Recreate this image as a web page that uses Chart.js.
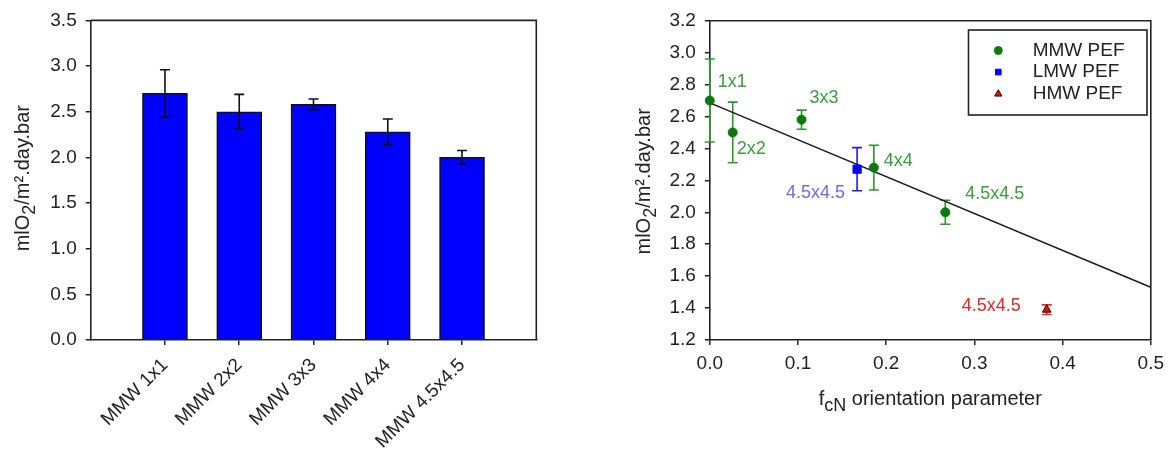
<!DOCTYPE html>
<html>
<head>
<meta charset="utf-8">
<script src="https://cdn.jsdelivr.net/npm/chart.js@4.4.1/dist/chart.umd.min.js"></script>
<style>
  html, body { margin: 0; padding: 0; background: #fff; }
  #wrap { position: relative; width: 1171px; height: 457px; overflow: hidden; }
  canvas { position: absolute; top: 0; }
  #barChart { left: 0; }
  #fitChart { left: 600px; }
</style>
</head>
<body>
<div id="wrap">
  <canvas id="barChart" width="600" height="457"></canvas>
  <canvas id="fitChart" width="571" height="457"></canvas>
</div>
<script>
// ---- data ----
const categories = ['MMW 1x1', 'MMW 2x2', 'MMW 3x3', 'MMW 4x4', 'MMW 4.5x4.5'];
const mmwTags = ['1x1', '2x2', '3x3', '4x4', '4.5x4.5'];
const mmwRate = [2.70, 2.50, 2.58, 2.28, 2.00];
const mmwErr = [0.26, 0.19, 0.06, 0.14, 0.075];
const mmwFcN = [0.000, 0.026, 0.104, 0.186, 0.267];

const lmwTags = ['4.5x4.5'];
const lmwRate = [2.27];
const lmwErr = [0.135];
const lmwFcN = [0.167];

const hmwTags = ['4.5x4.5'];
const hmwRate = [1.39];
const hmwErr = [0.03];
const hmwFcN = [0.382];

const trendFcN = [0.0, 0.5];
const trendRate = [2.685, 1.53];

const barRateTicks = [0.0, 0.5, 1.0, 1.5, 2.0, 2.5, 3.0, 3.5];
const fitRateTicks = [1.2, 1.4, 1.6, 1.8, 2.0, 2.2, 2.4, 2.6, 2.8, 3.0, 3.2];
const fcnTicks = [0.0, 0.1, 0.2, 0.3, 0.4, 0.5];

// ---- shared look ----
const FAMILY = "'Liberation Sans', Arial, Helvetica, sans-serif";
const INK = '#222222';
Chart.defaults.font.family = FAMILY;
Chart.defaults.font.size = 19;
Chart.defaults.color = INK;
Chart.defaults.animation = false;

const yTitleSegs = [{ t: 'mlO' }, { t: '2', sub: true }, { t: '/m\u00B2.day.bar' }];
const xTitleSegs = [{ t: 'f' }, { t: 'cN', sub: true }, { t: ' orientation parameter' }];

// where each sample tag sits relative to its point (px)
const mmwTagPlace = [
  { dx: 8, dy: -18 }, { dx: 4, dy: 17 }, { dx: 8, dy: -22 }, { dx: 10, dy: -7 }, { dx: 20, dy: -18 }
];
const lmwTagPlace = [{ dx: -12, dy: 24, align: 'right' }];
const hmwTagPlace = [{ dx: -26, dy: -4, align: 'right' }];

const fixTicks = values => scale => { scale.ticks = values.map(v => ({ value: v })); };
const fixWidth = w => scale => { scale.width = w; };
const fixHeight = h => scale => { scale.height = h; };
const oneDecimal = v => Number(v).toFixed(1);

// text with subscript runs, centred on (x, y)
function drawRich(ctx, segs, size, x, y, rot, color) {
  ctx.save();
  ctx.translate(x, y);
  ctx.rotate(rot);
  ctx.fillStyle = color;
  ctx.textAlign = 'left';
  ctx.textBaseline = 'alphabetic';
  const fonts = segs.map(s => `${s.sub ? size * 0.9 : size}px ${FAMILY}`);
  let total = 0;
  const widths = segs.map((s, i) => { ctx.font = fonts[i]; const w = ctx.measureText(s.t).width; total += w; return w; });
  let cx = -total / 2;
  segs.forEach((s, i) => {
    ctx.font = fonts[i];
    ctx.fillText(s.t, cx, s.sub ? size * 0.3 : 0);
    cx += widths[i];
  });
  ctx.restore();
}

function drawErrorBars(chart) {
  const ctx = chart.ctx, ys = chart.scales.y;
  chart.data.datasets.forEach((ds, i) => {
    if (!ds.errors) return;
    const meta = chart.getDatasetMeta(i);
    ctx.save();
    ctx.strokeStyle = ds.errorColor;
    ctx.lineWidth = 1.6;
    meta.data.forEach((el, j) => {
      const d = ds.data[j];
      const v = typeof d === 'object' ? d.y : d;
      const e = ds.errors[j];
      const top = ys.getPixelForValue(v + e), bot = ys.getPixelForValue(v - e), hw = 5;
      ctx.beginPath();
      ctx.moveTo(el.x, top); ctx.lineTo(el.x, bot);
      ctx.moveTo(el.x - hw, top); ctx.lineTo(el.x + hw, top);
      ctx.moveTo(el.x - hw, bot); ctx.lineTo(el.x + hw, bot);
      ctx.stroke();
    });
    ctx.restore();
  });
}

const errorBars = {
  id: 'errorBars',
  beforeDatasetsDraw(chart, args, opts) { if (opts.under) drawErrorBars(chart); },
  afterDatasetsDraw(chart, args, opts) { if (!opts.under) drawErrorBars(chart); }
};

const frame = {
  id: 'frame',
  afterDraw(chart, args, opts) {
    const a = chart.chartArea, ctx = chart.ctx;
    ctx.save();
    ctx.strokeStyle = opts.color;
    ctx.lineWidth = opts.width;
    ctx.beginPath();
    ctx.moveTo(a.left, a.top); ctx.lineTo(a.right, a.top); ctx.lineTo(a.right, a.bottom);
    ctx.stroke();
    ctx.restore();
  }
};

const axisTitles = {
  id: 'axisTitles',
  afterDraw(chart, args, opts) {
    const a = chart.chartArea, ctx = chart.ctx;
    if (opts.y) drawRich(ctx, opts.y.segs, opts.size, opts.y.baseline, (a.top + a.bottom) / 2 + (opts.y.shift || 0), -Math.PI / 2, opts.color);
    if (opts.x) drawRich(ctx, opts.x.segs, opts.size, (a.left + a.right) / 2, opts.x.baseline, 0, opts.color);
  }
};

const pointTags = {
  id: 'pointTags',
  afterDatasetsDraw(chart, args, opts) {
    const ctx = chart.ctx;
    chart.data.datasets.forEach((ds, i) => {
      if (!ds.tags) return;
      const meta = chart.getDatasetMeta(i);
      ctx.save();
      ctx.font = `${opts.size}px ${FAMILY}`;
      ctx.fillStyle = ds.tagColor;
      ctx.textBaseline = 'middle';
      meta.data.forEach((el, j) => {
        const p = ds.tagPlace[j];
        ctx.textAlign = p.align || 'left';
        ctx.fillText(ds.tags[j], el.x + p.dx, el.y + p.dy);
      });
      ctx.restore();
    });
  }
};

function drawMarker(ctx, style, x, y, r, fill, stroke) {
  ctx.save();
  ctx.fillStyle = fill;
  ctx.strokeStyle = stroke;
  ctx.lineWidth = 1;
  ctx.beginPath();
  if (style === 'rect') {
    const s = r * Math.SQRT1_2;
    ctx.rect(x - s, y - s, 2 * s, 2 * s);
  } else if (style === 'triangle') {
    ctx.moveTo(x, y - r);
    ctx.lineTo(x + r * 0.9, y + r * 0.6);
    ctx.lineTo(x - r * 0.9, y + r * 0.6);
    ctx.closePath();
  } else {
    ctx.arc(x, y, r, 0, Math.PI * 2);
  }
  ctx.fill();
  ctx.stroke();
  ctx.restore();
}

const boxLegend = {
  id: 'boxLegend',
  afterDraw(chart, args, o) {
    const ctx = chart.ctx;
    ctx.save();
    ctx.fillStyle = '#fff';
    ctx.fillRect(o.x, o.y, o.w, o.h);
    ctx.strokeStyle = INK;
    ctx.lineWidth = 1.6;
    ctx.strokeRect(o.x, o.y, o.w, o.h);
    ctx.font = `${o.size}px ${FAMILY}`;
    ctx.textAlign = 'left';
    ctx.textBaseline = 'middle';
    chart.data.datasets.filter(d => d.inLegend).forEach((ds, k) => {
      const cy = o.firstRow + k * o.rowGap;
      drawMarker(ctx, ds.pointStyle, o.markerX, cy, o.markerR, ds.pointBackgroundColor, ds.pointBorderColor);
      ctx.fillStyle = INK;
      ctx.fillText(ds.label, o.textX, cy);
    });
    ctx.restore();
  }
};

// ---- left: bar chart of permeation rate per sample ----
new Chart(document.getElementById('barChart'), {
  type: 'bar',
  data: {
    datasets: [{
      label: 'MMW PEF',
      data: categories.map((c, i) => ({ x: i + 1, y: mmwRate[i] })),
      backgroundColor: '#0000ff',
      borderColor: '#111',
      borderWidth: 1.5,
      barThickness: 45,
      errors: mmwErr,
      errorColor: '#111'
    }]
  },
  options: {
    responsive: false,
    layout: { padding: { top: 20, right: 63.7, left: 0, bottom: 0 } },
    plugins: {
      legend: { display: false },
      tooltip: { enabled: false },
      errorBars: { under: false },
      frame: { color: INK, width: 1.6 },
      axisTitles: { size: 20, color: INK, y: { segs: yTitleSegs, baseline: 28.5, shift: -2 } }
    },
    scales: {
      x: {
        type: 'linear', min: 0, max: 6, offset: false,
        afterBuildTicks: scale => { scale.ticks = categories.map((c, i) => ({ value: i + 1 })); },
        afterFit: fixHeight(117),
        grid: { display: true, drawOnChartArea: false, drawTicks: true, tickLength: 5, color: INK, lineWidth: 1.5, offset: false },
        border: { display: true, color: INK, width: 1.6 },
        ticks: {
          autoSkip: false, minRotation: 45, maxRotation: 45, padding: 9, color: INK,
          callback: v => categories[v - 1] || ''
        }
      },
      y: {
        min: 0, max: 3.5,
        afterBuildTicks: fixTicks(barRateTicks),
        afterFit: fixWidth(90.7),
        grid: { display: true, drawOnChartArea: false, drawTicks: true, tickLength: 5, color: INK, lineWidth: 1.5 },
        border: { display: true, color: INK, width: 1.6 },
        ticks: { padding: 9, color: INK, callback: oneDecimal }
      }
    }
  },
  plugins: [errorBars, frame, axisTitles]
});

// ---- right: rate against orientation parameter ----
const toPoints = (xs, ys) => xs.map((x, i) => ({ x, y: ys[i] }));

new Chart(document.getElementById('fitChart'), {
  type: 'scatter',
  data: {
    datasets: [
      {
        type: 'line',
        label: 'fit',
        data: toPoints(trendFcN, trendRate),
        showLine: true,
        borderColor: '#1a1a1a',
        borderWidth: 1.5,
        pointRadius: 0,
        order: 10
      },
      {
        label: 'MMW PEF',
        inLegend: true,
        data: toPoints(mmwFcN, mmwRate),
        clip: false,
        pointStyle: 'circle',
        pointRadius: 4.5,
        pointBackgroundColor: '#0b7a0b',
        pointBorderColor: '#0b7a0b',
        errors: mmwErr,
        errorColor: '#2f962f',
        tags: mmwTags,
        tagPlace: mmwTagPlace,
        tagColor: '#3a9c3a',
        order: 1
      },
      {
        label: 'LMW PEF',
        inLegend: true,
        data: toPoints(lmwFcN, lmwRate),
        clip: false,
        pointStyle: 'rect',
        pointRadius: 5.8,
        pointBackgroundColor: '#0000ff',
        pointBorderColor: '#0000ff',
        errors: lmwErr,
        errorColor: '#1f1fe0',
        tags: lmwTags,
        tagPlace: lmwTagPlace,
        tagColor: '#6b6bef',
        order: 1
      },
      {
        label: 'HMW PEF',
        inLegend: true,
        data: toPoints(hmwFcN, hmwRate),
        clip: false,
        pointStyle: 'triangle',
        pointRadius: 5,
        pointBackgroundColor: '#e01010',
        pointBorderColor: '#3a0000',
        pointBorderWidth: 1,
        errors: hmwErr,
        errorColor: '#e83030',
        tags: hmwTags,
        tagPlace: hmwTagPlace,
        tagColor: '#e02828',
        order: 1
      }
    ]
  },
  options: {
    responsive: false,
    layout: { padding: { top: 20.7, right: 19.5, left: 0, bottom: 0 } },
    plugins: {
      legend: { display: false },
      tooltip: { enabled: false },
      errorBars: { under: true },
      pointTags: { size: 18 },
      frame: { color: INK, width: 1.6 },
      axisTitles: {
        size: 20, color: INK,
        y: { segs: yTitleSegs, baseline: 50, shift: 1 },
        x: { segs: xTitleSegs, baseline: 405 }
      },
      boxLegend: { x: 368.5, y: 30, w: 178.5, h: 85, markerX: 398.3, textX: 432.7, firstRow: 50.5, rowGap: 21.6, markerR: 4, size: 19 }
    },
    scales: {
      x: {
        type: 'linear', min: 0, max: 0.5,
        afterBuildTicks: fixTicks(fcnTicks),
        afterFit: fixHeight(117),
        grid: { display: true, drawOnChartArea: false, drawTicks: true, tickLength: 5, color: INK, lineWidth: 1.5 },
        border: { display: true, color: INK, width: 1.6 },
        ticks: { padding: 7, color: INK, callback: oneDecimal, maxRotation: 0 }
      },
      y: {
        min: 1.2, max: 3.2,
        afterBuildTicks: fixTicks(fitRateTicks),
        afterFit: fixWidth(109.8),
        grid: { display: true, drawOnChartArea: false, drawTicks: true, tickLength: 5, color: INK, lineWidth: 1.5 },
        border: { display: true, color: INK, width: 1.6 },
        ticks: { padding: 9, color: INK, callback: oneDecimal }
      }
    }
  },
  plugins: [errorBars, pointTags, frame, axisTitles, boxLegend]
});
</script>
</body>
</html>
